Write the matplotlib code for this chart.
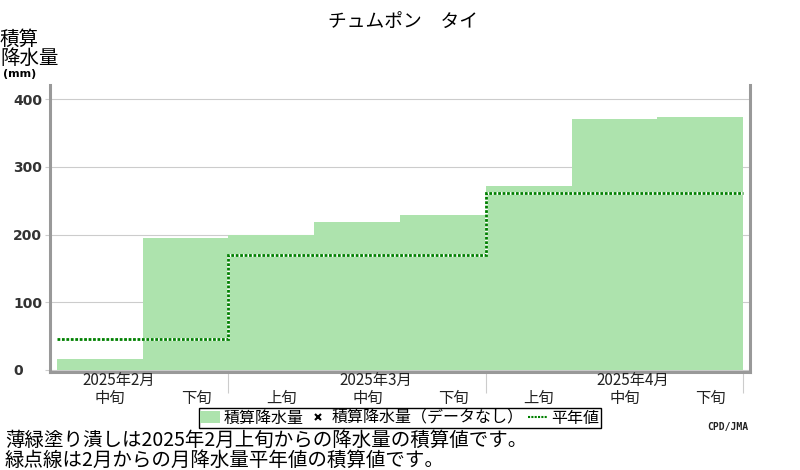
import numpy as np
import matplotlib
matplotlib.use("Agg")
from matplotlib import pyplot
from matplotlib.patches import Patch
from matplotlib.lines import Line2D

pyplot.rcParams['font.family'] = ['Noto Sans CJK JP', 'DejaVu Sans']

# data
dekad_labels = ['中旬', '下旬', '上旬', '中旬', '下旬', '上旬', '中旬', '下旬']
accum_precip = [16, 195, 200, 219, 229, 272, 371, 374]
month_labels = ['2025年2月', '2025年3月', '2025年4月']
month_dekads = [2, 3, 3]
normal_accum = [46, 170, 262]
yticks = [0, 100, 200, 300, 400]

barColor = '#ade3ad'
lineColor = '#008000'
axisGrey = '#999999'

fig = pyplot.figure(figsize=(8, 4.7), dpi=100)
ax = fig.add_axes([0.0625, 0.2085, 0.875, 0.6106])

n = len(accum_precip)
ax.bar(np.arange(n), accum_precip, width=1, align='edge', color=barColor, linewidth=0, zorder=2)

edges = np.concatenate([[0], np.cumsum(month_dekads)])
ax.stairs(normal_accum, edges, baseline=None, color='white', linewidth=2, zorder=3)
ax.stairs(normal_accum, edges, baseline=None, color=lineColor, linewidth=2,
          linestyle=(0, (1, 0.6)), zorder=4)

ax.set_xlim(-0.0816, n + 0.0816)
ax.set_ylim(-3, 421)

# y axis
ax.set_yticks(yticks)
ax.set_yticklabels([str(v) for v in yticks], ha='left', fontweight='bold',
                   color='#333333', fontsize=10, family='DejaVu Sans')
ax.tick_params(axis='y', length=3.6, width=0.8, color='#cccccc', pad=23)
ax.yaxis.grid(True, color='#cccccc', linewidth=0.8)
ax.set_axisbelow(True)

# x axis: month separators as major ticks, dekad names as minor ticks
ax.set_xticks(edges[1:])
ax.set_xticklabels([])
ax.tick_params(axis='x', which='major', length=15, width=0.8, color='#cccccc')
ax.set_xticks(np.arange(n) + 0.62, minor=True)
ax.set_xticklabels(dekad_labels, minor=True, fontsize=11, color='#222222')
ax.tick_params(axis='x', which='minor', length=0, pad=13)

# month name sits above its 中旬 label
mid_dekad = [i for i, d in enumerate(dekad_labels) if d == '中旬']
for pos, lab in zip(mid_dekad, month_labels):
    ax.annotate(lab, xy=(pos + 0.5 + 0.22, 0), xycoords=('data', 'axes fraction'),
                xytext=(0, 0), textcoords='offset points', ha='center', va='top',
                fontsize=11, color='#222222')

for side in ['left', 'right', 'bottom']:
    ax.spines[side].set_color(axisGrey)
    ax.spines[side].set_linewidth(2.2)
ax.spines['top'].set_visible(False)

# texts
fig.text(403 / 800, 1 - 12 / 470, 'チュムポン　タイ', ha='center', va='top', fontsize=13.5)
fig.text(0.0, 1 - 29 / 470, '積算\n降水量', ha='left', va='top', fontsize=14, linespacing=0.9)
fig.text(0.004, 1 - 69 / 470, '(mm)', ha='left', va='top', fontsize=8, fontweight='bold',
         family='DejaVu Sans')

handles = [
    Patch(facecolor=barColor, edgecolor='none'),
    Line2D([], [], marker='x', color='black', linestyle='none', markersize=4, markeredgewidth=1.5),
    Line2D([], [], color=lineColor, linestyle=(0, (1, 0.6)), linewidth=1.5),
]
labels = ['積算降水量', '積算降水量（データなし）', '平年値']
leg = fig.legend(handles, labels, loc='center', bbox_to_anchor=(400 / 800, 1 - 418 / 470),
                 ncol=3, fontsize=11.5, frameon=True, fancybox=False, framealpha=1,
                 edgecolor='black', borderpad=0.1, handlelength=1.2, handletextpad=0.25,
                 columnspacing=0.3, borderaxespad=0)
leg.get_frame().set_linewidth(1)

fig.text(748 / 800, 1 - 422 / 470, 'CPD/JMA', ha='right', va='top', fontsize=7,
         fontweight='bold', family='DejaVu Sans Mono', color='#222222')

fig.text(5 / 800, 1 - 430 / 470, '薄緑塗り潰しは2025年2月上旬からの降水量の積算値です。',
         ha='left', va='top', fontsize=14)
fig.text(5 / 800, 1 - 450 / 470, '緑点線は2月からの月降水量平年値の積算値です。',
         ha='left', va='top', fontsize=14)

fig.savefig('out.png', dpi=100)
